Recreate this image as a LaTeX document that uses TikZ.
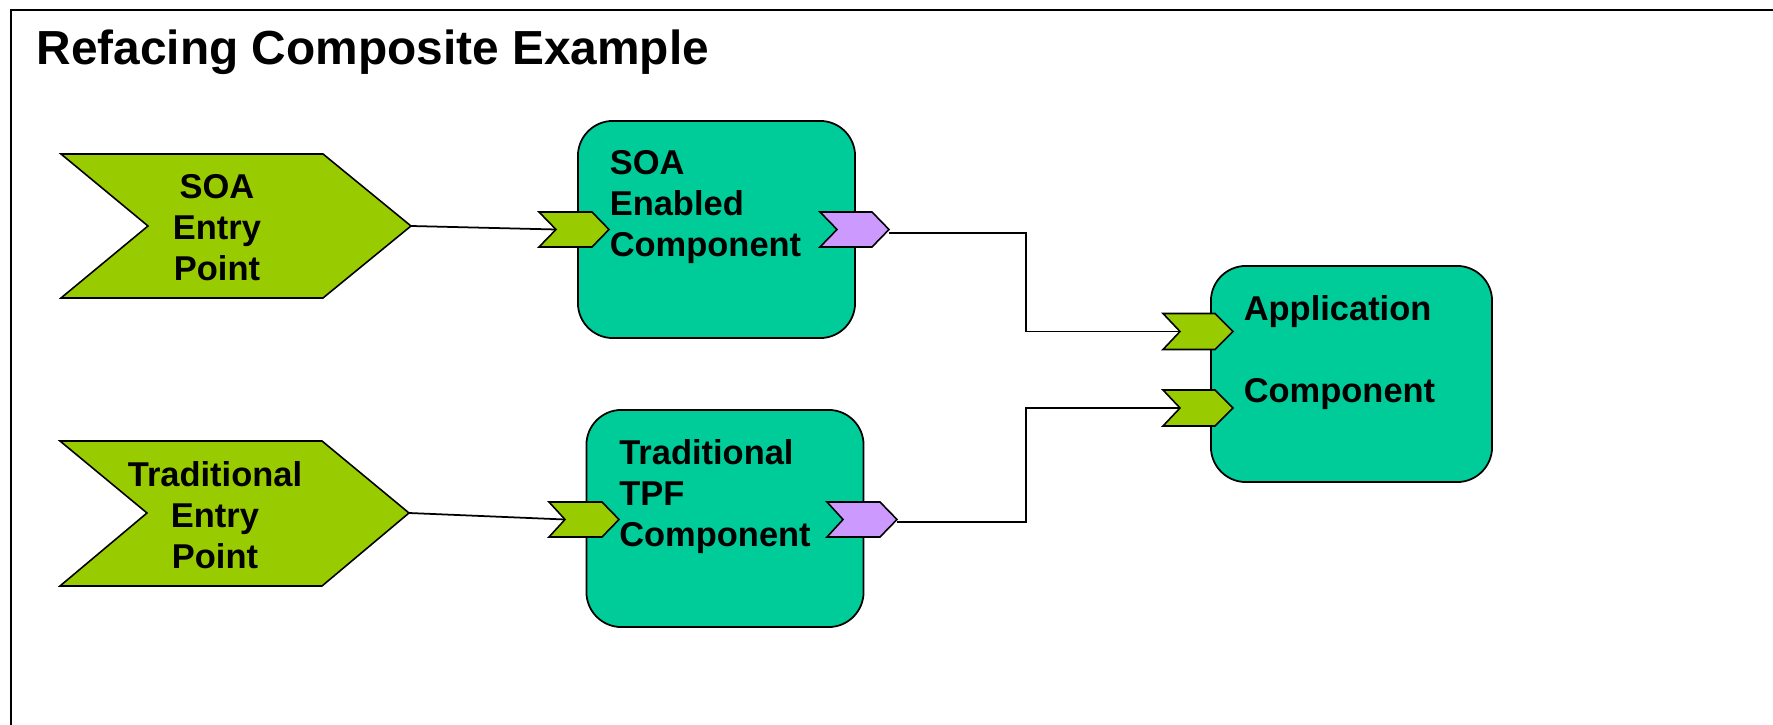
\documentclass[tikz,border=0pt]{standalone}
\usepackage{fontspec}
\setmainfont{Liberation Sans}
\usetikzlibrary{positioning,calc}
\definecolor{entrygreen}{RGB}{153,204,0}
\definecolor{compteal}{RGB}{0,204,153}
\definecolor{outpurple}{RGB}{204,153,255}

\begin{document}
\begin{tikzpicture}[
    x=0.01cm, y=-0.01cm, %one unit is one pixel of the picture
    inner sep=0pt,
    frame/.style={draw=black, line width=0.6pt},
    entry/.style={draw=black, fill=entrygreen, line width=0.45pt},
    comp/.style={draw=black, fill=compteal, line width=0.5pt,
        rounded corners=0.35cm, minimum width=2.77cm, minimum height=2.17cm},
    inport/.style={draw=black, fill=entrygreen, line width=0.45pt},
    outport/.style={draw=black, fill=outpurple, line width=0.45pt},
    link/.style={draw=black, line width=0.5pt},
    lbl/.style={font=\fontsize{9.8}{11.66}\selectfont\bfseries},
    ]

    \useasboundingbox (0,0) rectangle (1773,725);

    %frame and title
    \draw[frame] (11,735) -- (11,10) -- (1785,10);
    \node[anchor=base west, font=\fontsize{13.6}{16}\selectfont\bfseries] (title)
        at (36,65) {Refacing Composite Example};

    %entry points
    \draw[entry] (61,154) -- (323,154) -- (411,226) -- (323,298) -- (61,298) -- (148,226) -- cycle;
    \coordinate (soatip) at (411,226);
    \node[lbl, align=center, anchor=north] (soaentry) at (217,173.4) {SOA\\Entry\\Point};

    \draw[entry] (60,441) -- (322,441) -- (409,513) -- (322,586) -- (60,586) -- (147,513) -- cycle;
    \coordinate (tradtip) at (409,513);
    \node[lbl, align=center, anchor=north] (tradentry) at (215,460.4) {Traditional\\Entry\\Point};

    %components
    \node[comp] (soacomp) at (716.5,229.5) {};
    \node[comp] (tpfcomp) at (725,518.5) {};
    \node[comp, minimum width=2.81cm, minimum height=2.16cm] (appcomp) at (1351.5,374) {};

    \node[lbl, align=left, anchor=north west] (soatext)
        at ([xshift=0.32cm, yshift=-0.30cm]soacomp.north west) {SOA\\Enabled\\Component};
    \node[lbl, align=left, anchor=north west] (tpftext)
        at ([xshift=0.33cm, yshift=-0.30cm]tpfcomp.north west) {Traditional\\TPF\\Component};
    \node[lbl, align=left, anchor=north west] (apptext)
        at ([xshift=0.33cm, yshift=-0.30cm]appcomp.north west) {Application\\ \\Component};

    %port notches and tips
    \coordinate (soain) at (556,229.5);
    \coordinate (soaout) at (889,233);
    \coordinate (tpfin) at (565,519.5);
    \coordinate (tpfout) at (897,522);
    \coordinate (appin1) at (1180,331.5);
    \coordinate (appin2) at (1180,408);
    \coordinate (bus) at (1026,0);

    %links
    \draw[link] (soatip) -- (soain);
    \draw[link] (tradtip) -- (tpfin);
    \draw[link] (soaout) -- (soaout -| bus) |- (appin1);
    \draw[link] (tpfout) -- (tpfout -| bus) |- (appin2);

    %ports
    \draw[inport] (soain) -- ++(-17,-17.5) -- ++(53,0) -- ++(17,17.5) -- ++(-17,17.5) -- ++(-53,0) -- cycle;
    \draw[inport] (tpfin) -- ++(-16,-17.5) -- ++(53,0) -- ++(17,17.5) -- ++(-17,17.5) -- ++(-53,0) -- cycle;
    \draw[inport] (appin1) -- ++(-17,-18) -- ++(52,0) -- ++(18,18) -- ++(-18,18) -- ++(-52,0) -- cycle;
    \draw[inport] (appin2) -- ++(-17,-18) -- ++(52,0) -- ++(18,18) -- ++(-18,18) -- ++(-52,0) -- cycle;
    \draw[outport] (837,229.5) -- ++(-17,-17.5) -- ++(52,0) -- ++(17,17.5) -- ++(-17,17.5) -- ++(-52,0) -- cycle;
    \draw[outport] (843,519.5) -- ++(-16,-17.5) -- ++(53,0) -- ++(17,17.5) -- ++(-17,17.5) -- ++(-53,0) -- cycle;

\end{tikzpicture}
\end{document}
